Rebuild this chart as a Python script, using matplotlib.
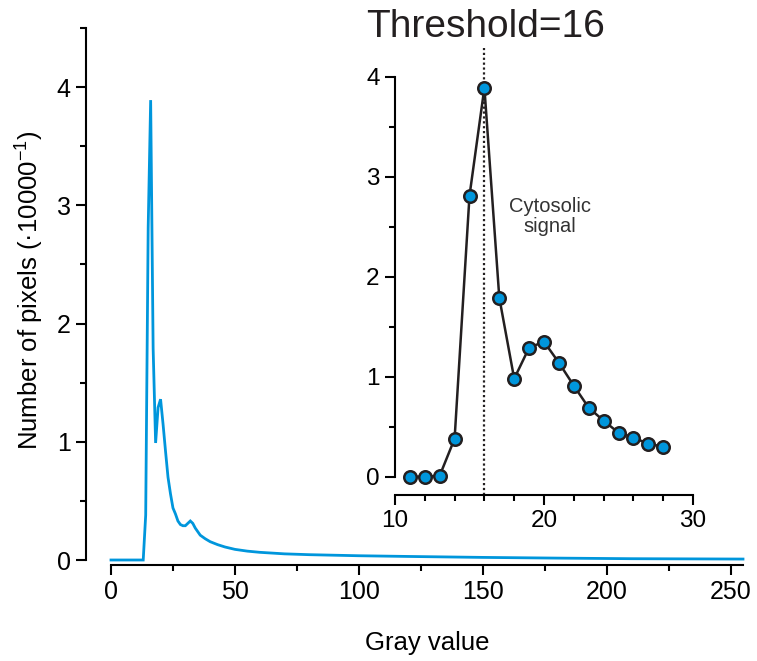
import matplotlib
matplotlib.use("Agg")
import matplotlib.pyplot as plt
from matplotlib.ticker import MultipleLocator

plt.rcParams['font.family'] = ['Liberation Sans', 'DejaVu Sans']
plt.rcParams['mathtext.fontset'] = 'custom'
plt.rcParams['mathtext.rm'] = 'Liberation Sans'
plt.rcParams['mathtext.it'] = 'Liberation Sans:italic'

# ---- data ----
main_gray = [0, 5, 10, 13, 14, 15, 16, 17, 18, 19, 20, 21, 22, 23, 24, 25, 26, 27, 28,
             29, 30, 31, 32, 33, 34, 35, 36, 38, 40, 43, 46, 50, 55, 60, 70, 80,
             100, 120, 150, 180, 210, 255]
main_count = [0, 0, 0, 0, 0.38, 2.81, 3.89, 1.79, 0.99, 1.29, 1.36, 1.15, 0.92, 0.70, 0.56,
              0.44, 0.39, 0.33, 0.30, 0.29, 0.29, 0.31, 0.33, 0.31, 0.27, 0.24, 0.21,
              0.18, 0.155, 0.13, 0.11, 0.09, 0.075, 0.065, 0.052, 0.045,
              0.036, 0.030, 0.022, 0.016, 0.011, 0.008]

inset_gray = [11, 12, 13, 14, 15, 16, 17, 18, 19, 20, 21, 22, 23, 24, 25, 26, 27, 28]
inset_count = [0, 0, 0.01, 0.38, 2.81, 3.89, 1.79, 0.98, 1.29, 1.35, 1.14, 0.91, 0.69,
               0.56, 0.44, 0.39, 0.33, 0.30]
threshold = 16

main_xticks = [0, 50, 100, 150, 200, 250]
main_yticks = [0, 1, 2, 3, 4]
inset_xticks = [10, 20, 30]
inset_yticks = [0, 1, 2, 3, 4]

blue = '#0096DC'
dark = '#231F20'

fig = plt.figure(figsize=(7.57, 6.61), dpi=100)
W, H = 757, 661

# ---- main axes ----
ax = fig.add_axes([111 / W, (H - 560) / H, 632 / W, 532 / H])
ax.plot(main_gray, main_count, color=blue, lw=2.0, clip_on=False, solid_joinstyle='miter')
ax.set_xlim(0, 255)
ax.set_ylim(0, 4.5)
for s in ['top', 'right']:
    ax.spines[s].set_visible(False)
ax.spines['left'].set_position(('outward', 18))
ax.spines['bottom'].set_position(('outward', 3.6))
ax.spines['left'].set_bounds(0, 4.5)
ax.spines['bottom'].set_bounds(0, 255)
for s in ['left', 'bottom']:
    ax.spines[s].set_linewidth(1.5)
    ax.spines[s].set_color('black')
ax.set_xticks(main_xticks)
ax.set_yticks(main_yticks)
ax.xaxis.set_minor_locator(MultipleLocator(25))
ax.yaxis.set_minor_locator(MultipleLocator(0.5))
ax.tick_params(which='major', length=7, width=1.5, labelsize=18, pad=4, color='black')
ax.tick_params(which='minor', length=4, width=1.5, color='black')
ax.set_xlabel('Gray value', fontsize=18.5)
ax.xaxis.set_label_coords(0.5, (560 - 643) / 532)
ax.xaxis.label.set_verticalalignment('center')
ax.set_ylabel('Number of pixels (·10000$^{-1}$)', fontsize=18.5)
ax.yaxis.set_label_coords((30 - 111) / 632, (560 - 290) / 532)
ax.yaxis.label.set_verticalalignment('center')
ax.patch.set_alpha(0)

# ---- inset ----
ins = fig.add_axes([395 / W, (H - 476.7) / H, 298 / W, 400 / H])
ins.axvline(threshold, ymin=(476.7 - 495) / 400, ymax=(476.7 - 48) / 400,
            color=dark, lw=1.6, linestyle=(0, (1, 1.2)), clip_on=False)
ins.plot(inset_gray, inset_count, color=dark, lw=1.8, marker='o', markersize=9,
         markerfacecolor=blue, markeredgecolor=dark, markeredgewidth=1.8, clip_on=False,
         zorder=3)
ins.set_xlim(10, 30)
ins.set_ylim(0, 4)
for s in ['top', 'right']:
    ins.spines[s].set_visible(False)
ins.spines['bottom'].set_position(('outward', 13.2))
for s in ['left', 'bottom']:
    ins.spines[s].set_linewidth(1.5)
    ins.spines[s].set_color('black')
ins.set_xticks(inset_xticks)
ins.set_yticks(inset_yticks)
ins.xaxis.set_minor_locator(MultipleLocator(2))
ins.yaxis.set_minor_locator(MultipleLocator(0.5))
ins.tick_params(which='major', length=7, width=1.5, labelsize=17.5, pad=4, color='black')
ins.tick_params(which='minor', length=4, width=1.5, color='black')
ins.patch.set_alpha(0)
ins.text(20.4, 2.6, 'Cytosolic\nsignal', ha='center', va='center', fontsize=14.5,
         color='#333333', linespacing=1.1)

fig.text(486 / W, 1 - 27 / H, 'Threshold=16', ha='center', va='center', fontsize=28,
         color=dark)

fig.savefig('out.png', dpi=100)
